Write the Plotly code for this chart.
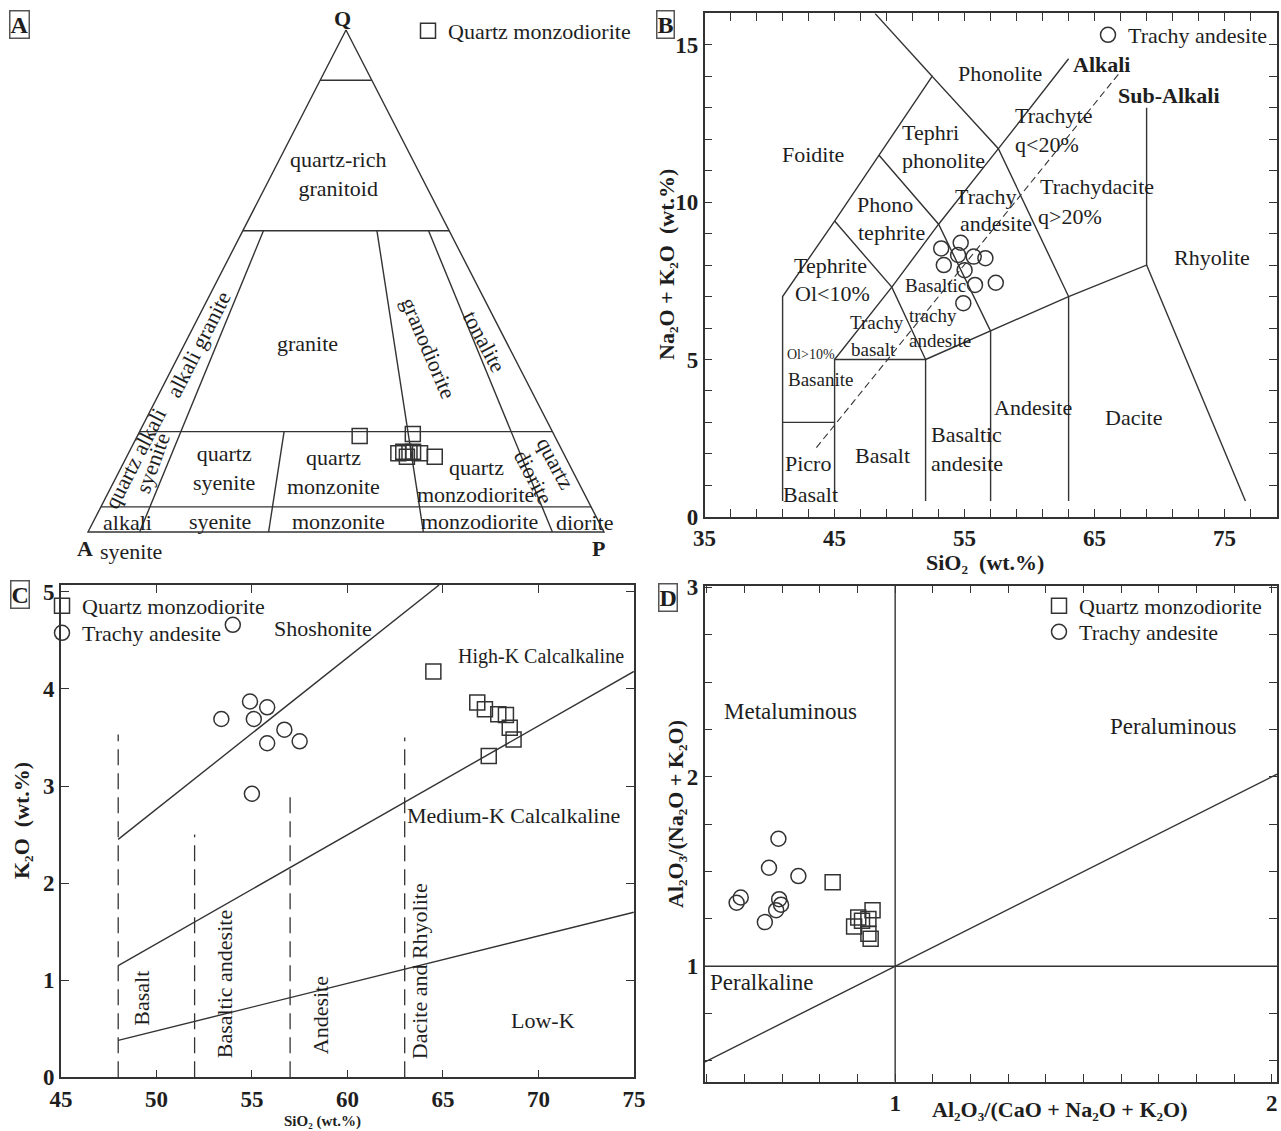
import plotly.graph_objects as go

W, H = 1281, 1131
FONT = "Liberation Serif"
INK = "#1e1e1e"
LINE = "#333333"

# ---------------- Panel A: QAP ternary (Q, A, P in %) ----------------
qap_Q = [19.1, 19.5, 15.7, 16.0, 15.8, 15.0, 16.0, 15.7, 15.0]
qap_A = [37.8, 27.3, 32.0, 30.9, 29.8, 30.7, 29.0, 27.8, 25.3]
qap_P = [43.1, 53.2, 52.3, 53.1, 54.4, 54.3, 55.0, 56.5, 59.7]
qap_q_levels = [90, 60, 20, 5]
# (P/(A+P) ratio, Q at which the divider starts) -> runs down to Q = 0
qap_ratio_lines = [(0.10, 60), (0.35, 20), (0.65, 60), (0.90, 60)]

# ---------------- Panel B: TAS ----------------
tas_sio2 = [53.2, 54.7, 54.5, 53.4, 55.7, 56.6, 55.0, 55.8, 57.4, 54.9]
tas_alk = [8.53, 8.71, 8.32, 8.00, 8.27, 8.22, 7.84, 7.37, 7.44, 6.79]
tas_boundaries = [
    ([41, 41, 45, 48.4, 52.5, 57.6, 63, 63], [0.5, 7, 9.4, 11.5, 14, 11.7, 7, 0.5]),
    ([48.1, 52.5], [16, 14]),
    ([41, 45], [3, 3]),
    ([45, 45, 52, 52], [0.5, 5, 5, 0.5]),
    ([52, 57, 63, 69, 69], [5, 5.9, 7, 8, 13]),
    ([57, 57], [0.5, 5.9]),
    ([69, 76.6], [8, 0.5]),
    ([45, 49.4, 52], [9.4, 7.3, 5]),
    ([48.4, 53, 57], [11.5, 9.3, 5.9]),
    ([45, 49.4, 53, 57.6, 63], [5, 7.3, 9.3, 11.7, 14.56]),
]
tas_divider_x = [43.6, 66.9]
tas_divider_y = [2.2, 14.1]

# ---------------- Panel C: K2O vs SiO2 ----------------
c_ta_sio2 = [54.0, 53.4, 54.9, 55.1, 55.8, 55.8, 56.7, 57.5, 55.0]
c_ta_k2o = [4.66, 3.69, 3.87, 3.69, 3.81, 3.44, 3.58, 3.46, 2.92]
c_qm_sio2 = [64.5, 66.8, 67.2, 67.9, 68.3, 68.5, 68.7, 67.4]
c_qm_k2o = [4.18, 3.86, 3.79, 3.74, 3.73, 3.60, 3.48, 3.31]
c_series_lines = [
    ([48, 64.8], [2.45, 5.07]),
    ([48, 75], [1.15, 4.18]),
    ([48, 75], [0.38, 1.70]),
]
c_rock_x = [48, 52, 57, 63]
c_rock_top = [3.53, 2.50, 2.94, 3.50]

# ---------------- Panel D: A/NK vs A/CNK ----------------
d_ta_acnk = [0.690, 0.665, 0.743, 0.590, 0.579, 0.692, 0.697, 0.684, 0.654]
d_ta_ank = [1.673, 1.520, 1.476, 1.363, 1.335, 1.354, 1.325, 1.296, 1.233]
d_qm_acnk = [0.834, 0.940, 0.902, 0.891, 0.929, 0.929, 0.912, 0.935]
d_qm_ank = [1.444, 1.296, 1.258, 1.210, 1.249, 1.172, 1.240, 1.145]
d_lines = [
    ([0.494, 2.014], [0.494, 2.014]),
    ([0.494, 2.014], [1.0, 1.0]),
    ([1.0, 1.0], [0.39, 3.01]),
]


def tern(q, a, p):
    s = q + a + p
    q, a, p = 100 * q / s, 100 * a / s, 100 * p / s
    return p + q / 2, q


def fx(px):
    return px / W


def fy(py):
    return 1 - py / H


fig = go.Figure()


def add_line(xs, ys, ax, dash=None, width=1.4):
    fig.add_trace(go.Scatter(x=xs, y=ys, mode="lines", xaxis="x" + ax, yaxis="y" + ax,
                             line=dict(color=LINE, width=width, dash=dash),
                             showlegend=False, hoverinfo="skip"))


# ---- Panel A geometry ----
outline = [tern(100, 0, 0), tern(0, 100, 0), tern(0, 0, 100), tern(100, 0, 0)]
add_line([p[0] for p in outline], [p[1] for p in outline], "")
for q in qap_q_levels:
    a, b = tern(q, 100 - q, 0), tern(q, 0, 100 - q)
    add_line([a[0], b[0]], [a[1], b[1]], "")
for r, q0 in qap_ratio_lines:
    a = tern(q0, (100 - q0) * (1 - r), (100 - q0) * r)
    b = tern(0, 100 * (1 - r), 100 * r)
    add_line([a[0], b[0]], [a[1], b[1]], "")

ax_pts = [tern(q, a, p) for q, a, p in zip(qap_Q, qap_A, qap_P)]
mk_sq = dict(symbol="square-open", size=15, color=LINE, line=dict(width=1.5, color=LINE))
mk_ci = dict(symbol="circle-open", size=15, color=LINE, line=dict(width=1.5, color=LINE))
fig.add_trace(go.Scatter(x=[p[0] for p in ax_pts], y=[p[1] for p in ax_pts], mode="markers",
                         xaxis="x", yaxis="y", marker=mk_sq, name="Quartz monzodiorite",
                         legend="legend", cliponaxis=False))

# ---- Panel B ----
for xs, ys in tas_boundaries:
    add_line(xs, ys, "2")
add_line(tas_divider_x, tas_divider_y, "2", dash="7px,4px", width=1.1)
fig.add_trace(go.Scatter(x=tas_sio2, y=tas_alk, mode="markers", xaxis="x2", yaxis="y2",
                         marker=mk_ci, name="Trachy andesite", legend="legend2"))

# ---- Panel C ----
for xs, ys in c_series_lines:
    add_line(xs, ys, "3")
for x0, top in zip(c_rock_x, c_rock_top):
    add_line([x0, x0], [0, top], "3", dash="16px,8px", width=1.3)
fig.add_trace(go.Scatter(x=c_qm_sio2, y=c_qm_k2o, mode="markers", xaxis="x3", yaxis="y3",
                         marker=mk_sq, name="Quartz monzodiorite", legend="legend3"))
fig.add_trace(go.Scatter(x=c_ta_sio2, y=c_ta_k2o, mode="markers", xaxis="x3", yaxis="y3",
                         marker=mk_ci, name="Trachy andesite", legend="legend5"))

# ---- Panel D ----
for xs, ys in d_lines:
    add_line(xs, ys, "4")
fig.add_trace(go.Scatter(x=d_qm_acnk, y=d_qm_ank, mode="markers", xaxis="x4", yaxis="y4",
                         marker=mk_sq, name="Quartz monzodiorite", legend="legend4"))
fig.add_trace(go.Scatter(x=d_ta_acnk, y=d_ta_ank, mode="markers", xaxis="x4", yaxis="y4",
                         marker=mk_ci, name="Trachy andesite", legend="legend6"))

# ---------------- axes ----------------
tickfont = dict(family=FONT, size=23, color=INK, weight="bold")


def frame_axis(domain, rng, anchor, labelled, minor_vals):
    return dict(domain=domain, range=rng, anchor=anchor, showgrid=False, zeroline=False,
                automargin=False,
                showline=True, linecolor=LINE, linewidth=1.6, mirror="allticks",
                ticks="inside", ticklen=8, tickwidth=1.4, tickcolor=LINE,
                tickmode="array", tickvals=labelled,
                minor=dict(tickmode="array", tickvals=minor_vals, ticks="inside", ticklen=8,
                           tickwidth=1.4, tickcolor=LINE, showgrid=False),
                tickfont=tickfont, fixedrange=True)


A_x0, A_sx, A_y0, A_sy = 88, 5.16, 532, 5.02
layout = dict(
    template="none",
    width=W, height=H, margin=dict(l=0, r=0, t=0, b=0, autoexpand=False),
    paper_bgcolor="white", plot_bgcolor="white",
    xaxis=dict(domain=[fx(40), fx(640)], range=[(40 - A_x0) / A_sx, (640 - A_x0) / A_sx],
               visible=False, anchor="y", fixedrange=True, automargin=False),
    yaxis=dict(domain=[fy(560), fy(0)], range=[(A_y0 - 560) / A_sy, (A_y0 - 0) / A_sy],
               visible=False, anchor="x", fixedrange=True, automargin=False),
    xaxis2=frame_axis([fx(704.6), fx(1276.6)], [35, 79], "y2", [35, 45, 55, 65, 75],
                      list(range(35, 80, 2))),
    yaxis2=frame_axis([fy(516.8), fy(13.4)], [0, 16], "x2", [0, 5, 10, 15], list(range(0, 17))),
    xaxis3=frame_axis([fx(60.9), fx(633.9)], [45, 75], "y3", list(range(45, 76, 5)), []),
    yaxis3=frame_axis([fy(1077.3), fy(585.0)], [0, 5.07], "x3", [0, 1, 2, 3, 4, 5], []),
    xaxis4=frame_axis([fx(704.6), fx(1277.0)], [0.494, 2.014], "y4", [1, 2],
                      [round(0.5 + 0.1 * i, 2) for i in range(16)]),
    yaxis4=frame_axis([fy(1081.8), fy(585.5)], [0.39, 3.01], "x4", [1, 2, 3],
                      [0.5 + 0.25 * i for i in range(11)]),
)

leg_common = dict(font=dict(family=FONT, size=22, color=INK), bgcolor="rgba(0,0,0,0)",
                  itemwidth=30, xanchor="left", yanchor="top", tracegroupgap=0,
                  itemclick=False, itemdoubleclick=False, borderwidth=0)
layout["legend"] = dict(x=fx(408), y=fy(10), **leg_common)
layout["legend2"] = dict(x=fx(1088), y=fy(14), **leg_common)
layout["legend3"] = dict(x=fx(42), y=fy(585), **leg_common)
layout["legend5"] = dict(x=fx(42), y=fy(612), **leg_common)
layout["legend4"] = dict(x=fx(1039), y=fy(585), **leg_common)
layout["legend6"] = dict(x=fx(1039), y=fy(611), **leg_common)
fig.update_layout(**layout)

# ---------------- annotations ----------------
ann = []


def txt(text, x, y, ax="", size=23, angle=0, bold=False, xanchor="center"):
    ann.append(dict(text=f"<b>{text}</b>" if bold else text, x=x, y=y,
                    xref="x" + ax if ax != "paper" else "paper",
                    yref="y" + ax if ax != "paper" else "paper",
                    showarrow=False, textangle=angle, xanchor=xanchor, yanchor="middle",
                    font=dict(family=FONT, size=size, color=INK)))


def pa(px, py):  # panel A pixel -> A data coords
    return (px - A_x0) / A_sx, (A_y0 - py) / A_sy


# Panel A labels
for text, px, py, ang, b in [
    ("Q", 342, 18, 0, True), ("A", 85, 548, 0, True), ("P", 598, 548, 0, True),
    ("syenite", 131, 551, 0, False),
    ("quartz-rich<br>granitoid", 338, 174, 0, False),
    ("granite", 307, 343, 0, False),
    ("alkali granite", 198.6, 344.6, -63, False),
    ("quartz alkali", 134.8, 458, -63, False),
    ("syenite", 152, 463, -70, False),
    ("quartz<br>syenite", 224, 468, 0, False),
    ("quartz<br>monzonite", 333, 472, 0, False),
    ("quartz", 476, 467, 0, False),
    ("monzodiorite", 475, 494, 0, False),
    ("granodiorite", 429, 348, 67, False),
    ("tonalite", 484.6, 341, 62, False),
    ("diorite", 533, 476.6, 62, False),
    ("quartz", 555.6, 463.4, 62, False),
    ("alkali", 127.6, 522, 0, False),
    ("syenite", 220.2, 521, 0, False),
    ("monzonite", 338.7, 521, 0, False),
    ("monzodiorite", 479.4, 521, 0, False),
    ("diorite", 584.4, 522, 0, False),
]:
    x, y = pa(px, py)
    txt(text, x, y, "", size=22, angle=ang, bold=b)

# Panel B labels
for text, x, y, size, b in [
    ("Phonolite", 57.72, 14.10, 22, False), ("Alkali", 65.5, 14.39, 22, True),
    ("Sub-Alkali", 70.72, 13.38, 22, True), ("Trachyte", 61.85, 12.77, 22, False),
    ("q<20%", 61.31, 11.82, 22, False), ("Tephri", 52.34, 12.23, 22, False),
    ("phonolite", 53.39, 11.31, 22, False), ("Foidite", 43.32, 11.50, 22, False),
    ("Trachydacite", 65.17, 10.51, 22, False), ("q>20%", 63.11, 9.56, 22, False),
    ("Phono", 48.88, 9.94, 22, False), ("tephrite", 49.34, 9.05, 22, False),
    ("Trachy", 56.62, 10.19, 22, False), ("andesite", 57.42, 9.31, 22, False),
    ("Rhyolite", 74.03, 8.23, 22, False), ("Tephrite", 44.72, 8.00, 22, False),
    ("Ol<10%", 44.85, 7.09, 22, False), ("Basaltic", 52.76, 7.35, 19, False),
    ("trachy", 52.57, 6.41, 19, False), ("andesite", 53.11, 5.59, 19, False),
    ("Trachy", 48.23, 6.16, 19, False), ("basalt", 48.0, 5.33, 19, False),
    ("Ol>10%", 43.17, 5.15, 14, False), ("Basanite", 43.88, 4.35, 19, False),
    ("Andesite", 60.26, 3.49, 22, False), ("Dacite", 68.03, 3.17, 22, False),
    ("Basaltic", 55.18, 2.63, 22, False), ("andesite", 55.18, 1.69, 22, False),
    ("Basalt", 48.71, 1.96, 22, False), ("Picro", 42.95, 1.69, 22, False),
    ("Basalt", 43.17, 0.72, 22, False),
]:
    txt(text, x, y, "2", size=size, bold=b)

# Panel C labels
for text, x, y, size, ang in [
    ("Shoshonite", 58.72, 4.62, 22, 0), ("High-K Calcalkaline", 70.13, 4.33, 20, 0),
    ("Medium-K Calcalkaline", 68.72, 2.70, 22, 0), ("Low-K", 70.24, 0.59, 22, 0),
    ("Basalt", 49.25, 0.81, 22, -90), ("Basaltic andesite", 53.55, 0.96, 22, -90),
    ("Andesite", 58.57, 0.64, 22, -90), ("Dacite and Rhyolite", 63.79, 1.09, 22, -90),
]:
    txt(text, x, y, "3", size=size, angle=ang)

# Panel D labels
for text, x, y in [("Metaluminous", 0.721, 2.343), ("Peraluminous", 1.740, 2.267),
                   ("Peralkaline", 0.645, 0.915)]:
    txt(text, x, y, "4", size=23)

# Axis titles (paper coords)
txt("SiO₂  (wt.%)", fx(985), fy(562), "paper", size=22, bold=True)
txt("Na₂O + K₂O  (wt.%)", fx(666), fy(265), "paper", size=22, angle=-90, bold=True)
txt("SiO₂ (wt.%)", fx(322), fy(1121), "paper", size=15, bold=True)
txt("K₂O  (wt.%)", fx(21), fy(821), "paper", size=22, angle=-90, bold=True)
txt("Al₂O₃/(CaO + Na₂O + K₂O)", fx(1060), fy(1109), "paper", size=22, bold=True)
txt("Al₂O₃/(Na₂O + K₂O)", fx(675), fy(814), "paper", size=22, angle=-90, bold=True)

# Panel letters
for letter, px, py in [("A", 19, 24), ("B", 665, 25), ("C", 20, 594), ("D", 668, 597)]:
    ann.append(dict(text=f"<b>{letter}</b>", x=fx(px), y=fy(py), xref="paper", yref="paper",
                    showarrow=False, xanchor="center", yanchor="middle",
                    bordercolor="#555555", borderwidth=1.5, borderpad=0, bgcolor="white",
                    font=dict(family=FONT, size=24, color=INK)))

fig.update_layout(annotations=ann)
fig.write_html("out.html", config={"displayModeBar": False},
               post_script="document.body.style.margin='0px';")
